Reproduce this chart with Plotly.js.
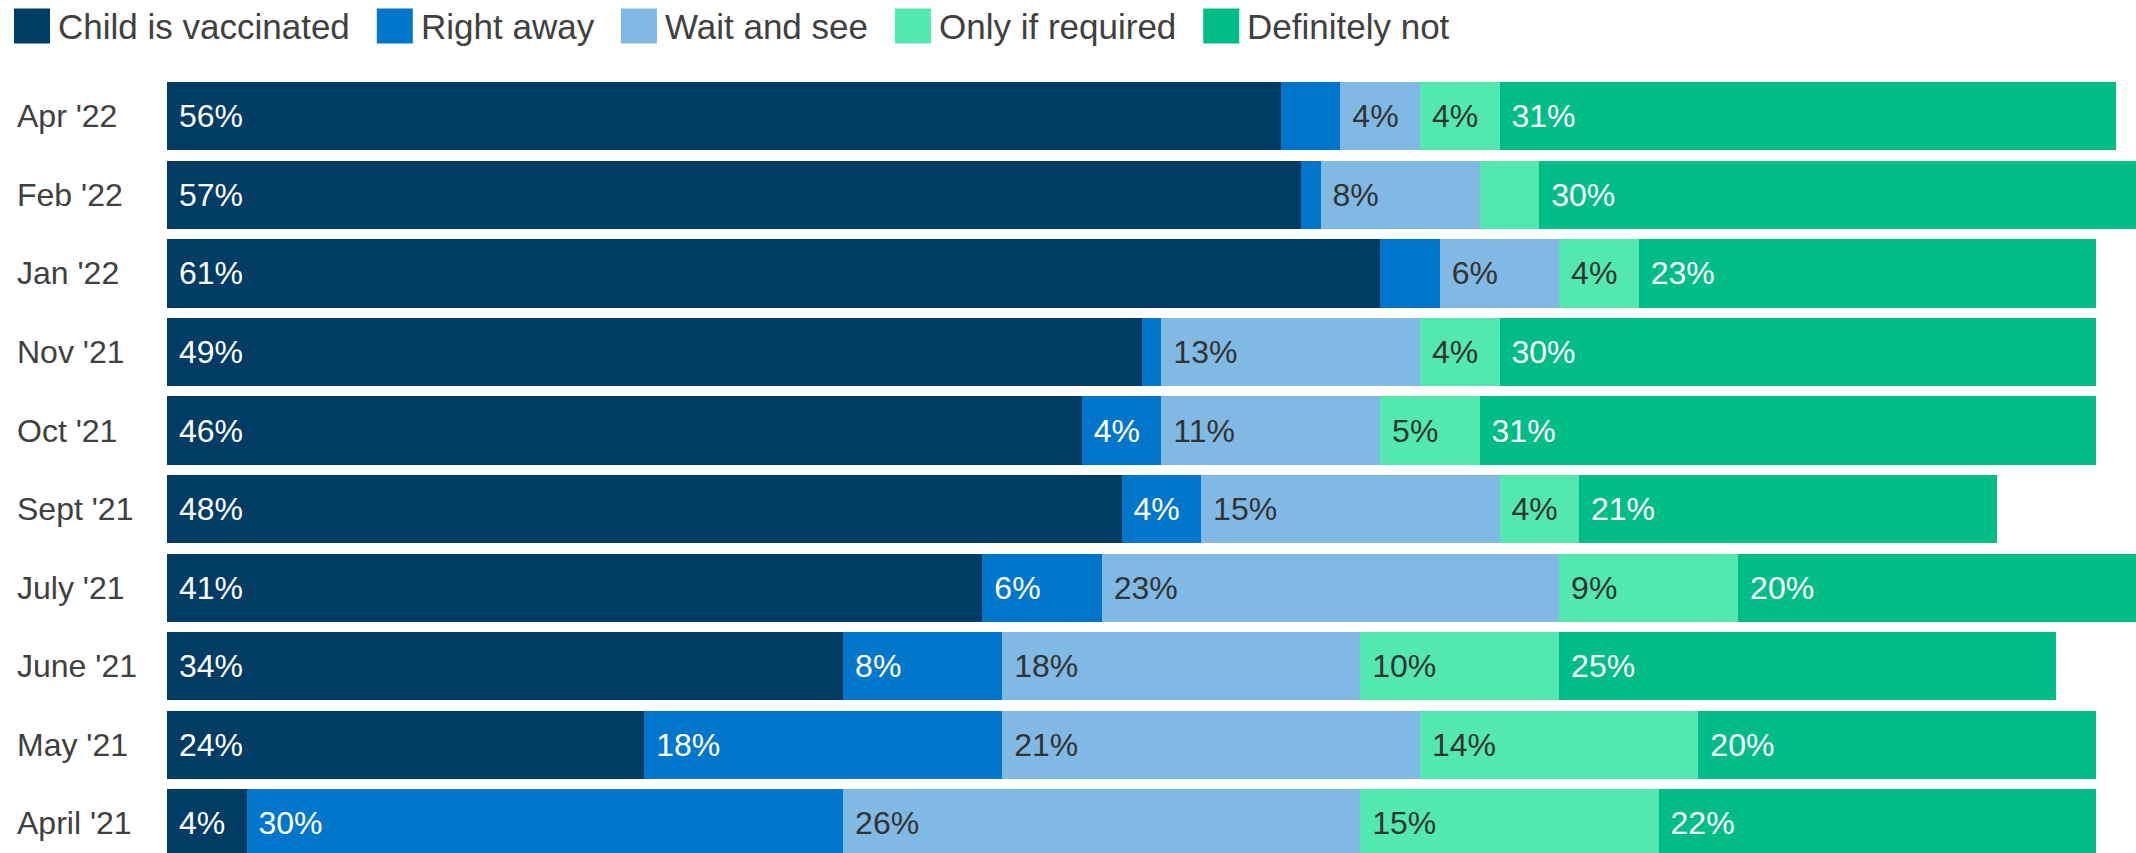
<!DOCTYPE html>
<html>
<head>
<meta charset="utf-8">
<script src="https://cdn.plot.ly/plotly-3.0.1.min.js"></script>
<style>
  html, body { margin: 0; padding: 0; background: #ffffff; }
  #chart { width: 2136px; height: 853px; }
</style>
</head>
<body>
<div id="chart"></div>
<script>
// ---- Data ----
const categories = ["Apr '22", "Feb '22", "Jan '22", "Nov '21", "Oct '21", "Sept '21", "July '21", "June '21", "May '21", "April '21"];
const seriesNames = ["Child is vaccinated", "Right away", "Wait and see", "Only if required", "Definitely not"];
const vaccinated     = [56, 57, 61, 49, 46, 48, 41, 34, 24, 4];
const rightAway      = [3, 1, 3, 1, 4, 4, 6, 8, 18, 30];
const waitAndSee     = [4, 8, 6, 13, 11, 15, 23, 18, 21, 26];
const onlyIfRequired = [4, 3, 4, 4, 5, 4, 9, 10, 14, 15];
const definitelyNot  = [31, 30, 23, 30, 31, 21, 20, 25, 20, 22];

// ---- Styling ----
const W = 2136, H = 853;
const FONT = "'Liberation Sans', Arial, Helvetica, sans-serif";
const colors = ["#013c64", "#0276ca", "#80b9e3", "#52e8b0", "#00bd87"];
const textColors = ["#ffffff", "#ffffff", "#333333", "#333333", "#ffffff"];
const allValues = [vaccinated, rightAway, waitAndSee, onlyIfRequired, definitelyNot];

const M = { l: 167, r: 0, t: 76.6, b: 0 };
const plotW = W - M.l - M.r, plotH = H - M.t - M.b;
const px2paperX = px => (px - M.l) / plotW;
const px2paperY = py => (H - M.b - py) / plotH;

const traces = allValues.map((vals, i) => ({
  type: 'bar',
  orientation: 'h',
  name: seriesNames[i],
  y: categories,
  x: vals,
  text: vals.map(v => v >= 4 ? '\u00a0' + v + '%' : ''),
  textposition: 'inside',
  insidetextanchor: 'start',
  textangle: 0,
  constraintext: 'none',
  textfont: { family: FONT, size: 32, color: textColors[i] },
  marker: { color: colors[i], line: { width: 0 } },
  hoverinfo: 'skip',
  showlegend: false
}));

// Custom legend (large square swatches)
const shapes = [];
const annotations = [];
const ctx = document.createElement('canvas').getContext('2d');
ctx.font = "35px 'Liberation Sans', Arial, sans-serif";
let lx = 14;
seriesNames.forEach((name, i) => {
  shapes.push({
    type: 'rect', xref: 'paper', yref: 'paper',
    x0: px2paperX(lx), x1: px2paperX(lx + 36),
    y0: px2paperY(43), y1: px2paperY(8),
    fillcolor: colors[i], line: { width: 0 }, layer: 'above'
  });
  const tx = lx + 44;
  annotations.push({
    xref: 'paper', yref: 'paper',
    x: px2paperX(tx - 2), y: px2paperY(26),
    xanchor: 'left', yanchor: 'middle',
    text: name, showarrow: false,
    font: { family: FONT, size: 35, color: '#404040' }
  });
  lx = tx + ctx.measureText(name).width + 27;
});

// Category labels, left aligned
categories.forEach(c => {
  annotations.push({
    xref: 'paper', yref: 'y',
    x: px2paperX(17 - 2), y: c,
    xanchor: 'left', yanchor: 'middle',
    text: c, showarrow: false,
    font: { family: FONT, size: 32, color: '#404040' }
  });
});

const layout = {
  width: W, height: H,
  margin: M,
  paper_bgcolor: '#ffffff',
  plot_bgcolor: '#ffffff',
  barmode: 'stack',
  bargap: 0.131,
  showlegend: false,
  font: { family: FONT, color: '#404040' },
  xaxis: { range: [0, 99], visible: false, fixedrange: true },
  yaxis: {
    type: 'category',
    categoryorder: 'array', categoryarray: categories,
    range: [9.378, -0.5], autorange: false,
    showticklabels: false, showgrid: false, zeroline: false, showline: false,
    ticks: '', fixedrange: true
  },
  shapes: shapes,
  annotations: annotations
};

Plotly.newPlot('chart', traces, layout, { staticPlot: true, displayModeBar: false });
</script>
</body>
</html>
